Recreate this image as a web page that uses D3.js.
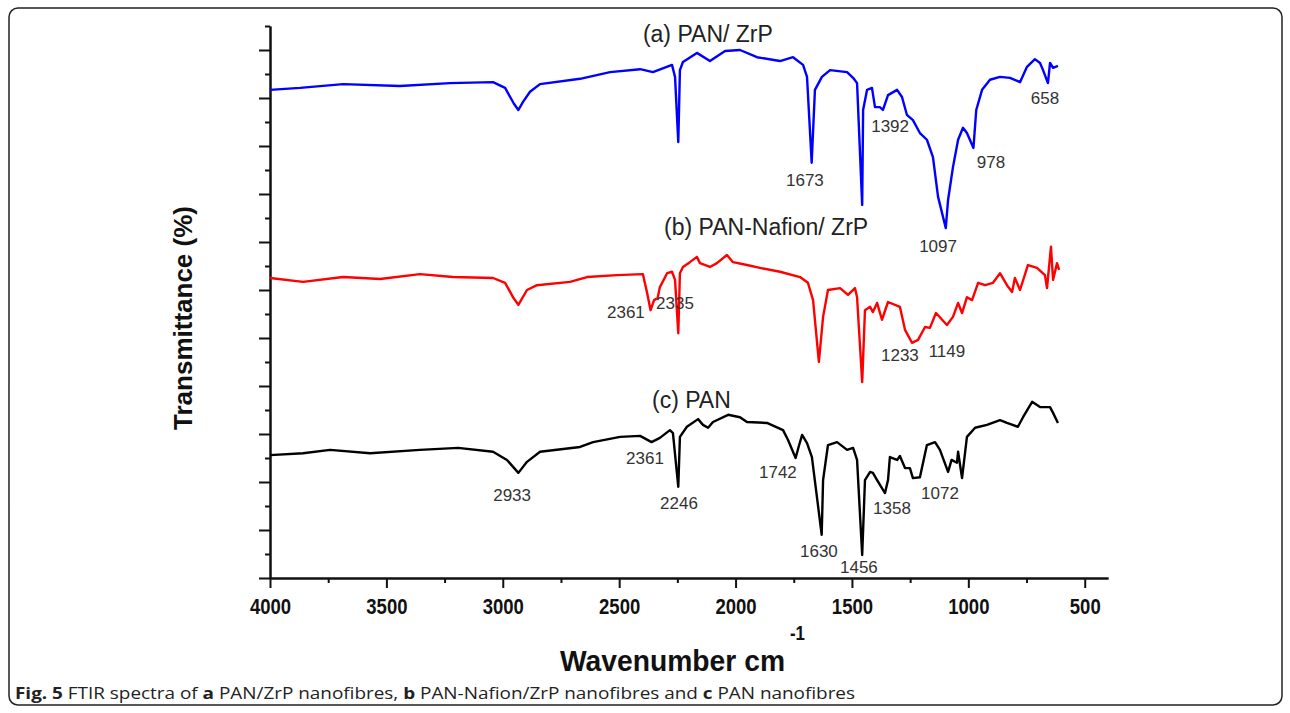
<!DOCTYPE html>
<html>
<head>
<meta charset="utf-8">
<script src="https://cdn.jsdelivr.net/npm/d3@7"></script>
<style>
  body { margin: 0; background: #fff; }
  svg { display: block; }
</style>
</head>
<body>
<svg id="ftir-chart" width="1290" height="713"></svg>
<script>
// wavenumber (cm-1) and transmittance (offset, arb. units)
const panZrpWn = [4000, 3871, 3686, 3442, 3227, 3042, 2990, 2952, 2933, 2913, 2883, 2840, 2668, 2539, 2410, 2355, 2273, 2260, 2246, 2239, 2226, 2166, 2110, 2045, 1981, 1908, 1809, 1753, 1710, 1693, 1673, 1659, 1629, 1594, 1521, 1495, 1478, 1456, 1452, 1435, 1414, 1401, 1380, 1367, 1345, 1306, 1285, 1264, 1238, 1208, 1178, 1152, 1130, 1097, 1087, 1066, 1044, 1023, 1006, 978, 966, 941, 907, 864, 821, 778, 748, 714, 692, 679, 658, 649, 636, 615];
const panZrpT = [101.7, 102.1, 102.9, 102.5, 103.1, 103.3, 102.1, 98.8, 97.5, 99.2, 101.3, 102.9, 104.0, 105.4, 106.0, 105.4, 106.9, 104.4, 90.8, 105.8, 107.5, 109.4, 107.7, 109.8, 110.0, 108.5, 107.7, 108.5, 106.9, 104.4, 86.5, 101.7, 104.4, 105.8, 105.4, 104.2, 103.1, 77.7, 97.5, 101.7, 102.1, 98.1, 98.1, 97.5, 100.6, 101.7, 100.2, 96.5, 95.4, 92.7, 91.3, 87.7, 79.4, 72.9, 78.8, 85.6, 91.3, 93.8, 92.7, 89.6, 97.5, 101.7, 103.8, 104.4, 104.2, 103.3, 106.5, 108.1, 107.3, 105.8, 103.1, 107.3, 106.3, 106.7];

const panNafionWn = [4000, 3858, 3686, 3527, 3356, 3214, 3042, 2990, 2956, 2933, 2896, 2853, 2711, 2638, 2509, 2398, 2380, 2365, 2350, 2335, 2325, 2294, 2273, 2260, 2246, 2239, 2226, 2196, 2166, 2153, 2110, 2080, 2037, 2011, 1951, 1895, 1809, 1723, 1689, 1667, 1642, 1624, 1603, 1551, 1517, 1487, 1478, 1456, 1444, 1422, 1410, 1392, 1371, 1345, 1294, 1272, 1242, 1216, 1186, 1165, 1139, 1092, 1066, 1044, 1027, 1006, 984, 958, 928, 894, 864, 834, 812, 800, 778, 744, 705, 671, 662, 645, 636, 619, 610];
const panNafionT = [62.5, 61.7, 62.7, 62.3, 63.3, 62.7, 62.5, 61.5, 58.5, 56.9, 60.0, 61.0, 61.7, 62.7, 63.1, 63.3, 59.4, 55.8, 57.9, 58.3, 60.6, 63.5, 63.8, 62.1, 51.0, 63.5, 64.8, 65.8, 66.9, 65.6, 64.8, 65.6, 67.3, 65.8, 65.2, 64.6, 63.8, 62.7, 61.5, 57.9, 45.0, 54.4, 60.0, 60.4, 59.0, 60.4, 58.5, 40.8, 55.8, 56.5, 55.4, 57.3, 53.8, 57.5, 56.5, 51.7, 49.0, 49.6, 52.3, 52.1, 55.2, 52.7, 54.4, 57.3, 55.2, 58.5, 57.9, 61.5, 61.0, 61.5, 63.5, 61.0, 59.6, 62.5, 60.0, 65.2, 64.6, 63.1, 60.4, 69.0, 62.1, 65.6, 64.2];

const panWn = [4000, 3858, 3742, 3570, 3356, 3192, 3042, 2982, 2933, 2896, 2840, 2668, 2612, 2496, 2410, 2361, 2325, 2282, 2269, 2246, 2239, 2209, 2161, 2140, 2118, 2097, 2032, 1981, 1951, 1865, 1796, 1775, 1742, 1728, 1714, 1693, 1672, 1630, 1624, 1603, 1564, 1521, 1495, 1478, 1456, 1444, 1422, 1410, 1392, 1358, 1345, 1337, 1306, 1294, 1272, 1251, 1238, 1208, 1178, 1143, 1122, 1087, 1072, 1049, 1044, 1027, 1006, 971, 920, 864, 834, 787, 765, 726, 692, 649, 636, 615];
const panT = [25.6, 26.0, 26.7, 26.0, 26.7, 27.1, 26.3, 24.6, 21.9, 24.2, 26.3, 27.3, 28.3, 29.4, 29.6, 28.3, 29.2, 30.8, 30.2, 19.0, 29.4, 31.5, 33.1, 31.9, 31.3, 32.5, 34.0, 33.5, 32.5, 32.3, 30.8, 28.8, 25.0, 27.5, 29.8, 28.1, 25.2, 9.0, 20.4, 27.7, 28.3, 26.7, 27.1, 24.6, 4.8, 20.4, 22.1, 21.9, 20.4, 17.7, 20.4, 25.2, 24.6, 25.4, 22.9, 22.9, 20.8, 21.0, 27.7, 28.3, 26.7, 22.1, 24.6, 24.0, 26.3, 20.8, 29.4, 31.3, 31.9, 32.9, 32.3, 31.5, 33.5, 36.7, 35.6, 35.6, 34.4, 32.3];

const seriesNames = ["(a) PAN/ ZrP", "(b) PAN-Nafion/ ZrP", "(c) PAN"];
const seriesColors = ["#0000ff", "#ff0000", "#000000"];
const seriesNameWn = [2398, 2307, 2359];
const seriesNameT = [111.7, 71.5, 35.4];

// peak annotations: text, and where the text sits in data units
const peakText = ["1673", "1392", "978", "1097", "658", "2361", "2335", "1233", "1149", "2361", "2246", "1742", "1630", "1456", "1358", "1072", "2933"];
const peakWn = [1702, 1336, 903, 1130, 671, 2471, 2260, 1294, 1092, 2389, 2243, 1818, 1642, 1470, 1328, 1122, 2960];
const peakT = [81.7, 92.9, 85.4, 67.9, 98.8, 54.2, 56.0, 45.2, 46.0, 23.8, 14.4, 20.8, 4.4, 1.0, 13.3, 16.5, 16.0];

const xMajor = [4000, 3500, 3000, 2500, 2000, 1500, 1000, 500];
const xMinor = [3750, 3250, 2750, 2250, 1750, 1250, 750];

renderChart();

function renderChart() {
  let svg = d3.select("#ftir-chart");

  // rounded figure frame
  svg.append("rect")
    .attr("x", 9).attr("y", 8)
    .attr("width", 1273).attr("height", 697)
    .attr("rx", 9)
    .attr("fill", "none")
    .attr("stroke", "#222")
    .attr("stroke-width", 1.5);

  let x = d3.scaleLinear().domain([4000, 400]).range([270, 1108]);
  let y = d3.scaleLinear().domain([0, 115]).range([578, 26]);

  let sans = "Arial, 'Liberation Sans', sans-serif";

  // X axis
  let xAxis = svg.append("g")
    .attr("transform", "translate(0,578)")
    .call(d3.axisBottom(x).tickValues(xMajor).tickSize(10).tickSizeOuter(0).tickFormat(d3.format("d")));
  svg.append("g")
    .attr("transform", "translate(0,578)")
    .call(d3.axisBottom(x).tickValues(xMinor).tickSize(5).tickSizeOuter(0).tickFormat(""));
  // squeezed bold digits, like a narrow face
  xAxis.selectAll("text")
    .attr("y", 20)
    .attr("dy", "0.71em")
    .attr("font-family", sans)
    .attr("font-weight", "bold")
    .attr("font-size", 22)
    .attr("fill", "#111")
    .attr("textLength", (d) => String(d).length * 10.3)
    .attr("lengthAdjust", "spacingAndGlyphs");

  // Y axis (no labels)
  let yTicks = d3.range(0, 116, 5);
  svg.append("g")
    .attr("transform", "translate(270,0)")
    .call(d3.axisLeft(y).tickValues(yTicks.filter((d) => d % 10 === 0)).tickSize(11).tickSizeOuter(0).tickFormat(""));
  svg.append("g")
    .attr("transform", "translate(270,0)")
    .call(d3.axisLeft(y).tickValues(yTicks.filter((d) => d % 10 !== 0)).tickSize(5).tickSizeOuter(0).tickFormat(""));

  svg.selectAll(".domain, .tick line")
    .attr("stroke", "#111")
    .attr("stroke-width", 2);

  // spectra
  let allWn = [panZrpWn, panNafionWn, panWn];
  let allT = [panZrpT, panNafionT, panT];
  let line = d3.line()
    .x((d) => x(d[0]))
    .y((d) => y(d[1]));

  allWn.forEach(function (wn, i) {
    svg.append("path")
      .datum(wn.map((w, j) => [w, allT[i][j]]))
      .attr("d", line)
      .attr("fill", "none")
      .attr("stroke", seriesColors[i])
      .attr("stroke-width", 2.4)
      .attr("stroke-linejoin", "round");
  });

  // series names
  svg.append("g")
    .selectAll("text")
    .data(seriesNames)
    .enter()
    .append("text")
    .attr("x", (d, i) => x(seriesNameWn[i]))
    .attr("y", (d, i) => y(seriesNameT[i]))
    .attr("font-family", sans)
    .attr("font-size", 23)
    .attr("fill", "#222")
    .text((d) => d);

  // peak labels
  svg.append("g")
    .selectAll("text")
    .data(peakText)
    .enter()
    .append("text")
    .attr("x", (d, i) => x(peakWn[i]))
    .attr("y", (d, i) => y(peakT[i]))
    .attr("text-anchor", "middle")
    .attr("font-family", sans)
    .attr("font-size", 17)
    .attr("fill", "#333")
    .text((d) => d);

  // axis titles
  svg.append("text")
    .attr("transform", "translate(192,318) rotate(-90)")
    .attr("text-anchor", "middle")
    .attr("font-family", sans)
    .attr("font-weight", "bold")
    .attr("font-size", 26)
    .attr("fill", "#111")
    .text("Transmittance (%)");

  svg.append("text")
    .attr("x", 560)
    .attr("y", 671)
    .attr("font-family", sans)
    .attr("font-weight", "bold")
    .attr("font-size", 30)
    .attr("fill", "#111")
    .attr("textLength", 225)
    .attr("lengthAdjust", "spacingAndGlyphs")
    .text("Wavenumber cm");
  svg.append("text")
    .attr("x", 790)
    .attr("y", 640)
    .attr("font-family", sans)
    .attr("font-weight", "bold")
    .attr("font-size", 20)
    .attr("fill", "#111")
    .attr("textLength", 15)
    .attr("lengthAdjust", "spacingAndGlyphs")
    .text("-1");

  // caption
  let cap = svg.append("text")
    .attr("x", 15)
    .attr("y", 699)
    .attr("font-family", "'Open Sans', sans-serif")
    .attr("font-size", 16)
    .attr("fill", "#222")
    .attr("textLength", 840)
    .attr("lengthAdjust", "spacingAndGlyphs");
  let parts = [["Fig. 5", true], [" FTIR spectra of ", false], ["a", true], [" PAN/ZrP nanofibres, ", false], ["b", true], [" PAN-Nafion/ZrP nanofibres and ", false], ["c", true], [" PAN nanofibres", false]];
  parts.forEach(function (p) {
    cap.append("tspan")
      .attr("font-weight", p[1] ? "bold" : "normal")
      .text(p[0]);
  });
}
</script>
</body>
</html>
